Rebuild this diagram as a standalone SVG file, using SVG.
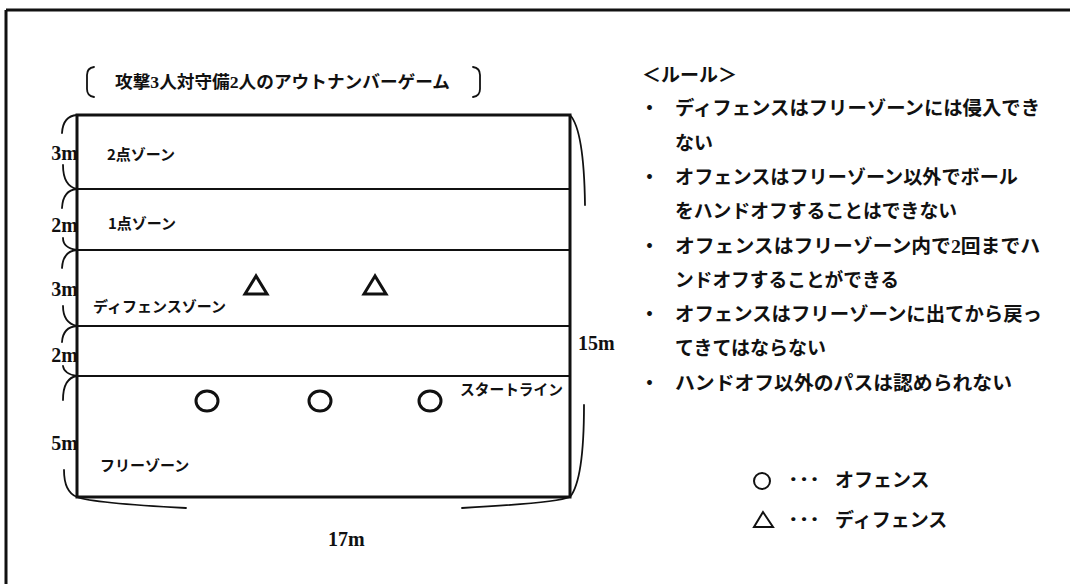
<svg xmlns="http://www.w3.org/2000/svg" width="1070" height="584" viewBox="0 0 1070 584">
<style>
.jp{font-family:"Liberation Serif","Noto Sans CJK JP",sans-serif;font-weight:700;fill:#111}
.num{font-family:"Liberation Serif","Noto Sans CJK JP",serif;font-weight:700;fill:#111;font-size:20px}
.zone{font-family:"Noto Sans CJK JP",sans-serif;font-weight:700;fill:#111;font-size:15px}
.rule{font-family:"Liberation Serif","Noto Sans CJK JP",sans-serif;font-weight:700;fill:#111;font-size:19px}
.thin{fill:none;stroke:#111;stroke-width:2}
.thick{fill:none;stroke:#111;stroke-width:3}
.brace{fill:none;stroke:#111;stroke-width:1.8;stroke-linecap:round}
</style>
<rect width="1070" height="584" fill="#fff"/>
<g id="frame">
<line x1="6" y1="10" x2="1070" y2="10" class="thick"/>
<line x1="6" y1="10" x2="6" y2="584" class="thick"/>
</g>
<g id="title">
<path d="M94,67 Q87,68 87,75 L87,89 Q87,96 94,97" class="brace"/>
<path d="M473,67 Q480,68 480,75 L480,89 Q480,96 473,97" class="brace"/>
<text x="115" y="88" class="jp" font-size="17.5" textLength="335" lengthAdjust="spacingAndGlyphs">攻撃3人対守備2人のアウトナンバーゲーム</text>
</g>
<g id="field">
<rect x="77" y="115" width="493" height="382" class="thick"/>
<line x1="77" y1="189" x2="570" y2="189" class="thin"/>
<line x1="77" y1="250" x2="570" y2="250" class="thin"/>
<line x1="77" y1="326" x2="570" y2="326" class="thin"/>
<line x1="77" y1="376" x2="570" y2="376" class="thin"/>
<text x="107" y="160" class="zone">2点ゾーン</text>
<text x="108" y="229" class="zone">1点ゾーン</text>
<text x="93" y="312" class="zone">ディフェンスゾーン</text>
<text x="460" y="395" class="zone" textLength="103" lengthAdjust="spacingAndGlyphs">スタートライン</text>
<text x="100" y="471" class="zone">フリーゾーン</text>
</g>
<g id="defenders">
<path d="M256,276 L245,294 L267,294 Z" class="thick"/>
<path d="M375,276 L364,294 L386,294 Z" class="thick"/>
</g>
<g id="offense">
<ellipse cx="207" cy="401" rx="11" ry="10" class="thick"/>
<ellipse cx="320" cy="401" rx="11" ry="10" class="thick"/>
<ellipse cx="430" cy="401" rx="11" ry="10" class="thick"/>
</g>
<g id="dimensions">
<path d="M77,115 Q63,116 62,133" class="brace"/>
<path d="M63,165 Q63,186 77,189" class="brace"/>
<path d="M77,189 Q63,190 62,208" class="brace"/>
<path d="M63,238 Q63,248 77,250" class="brace"/>
<path d="M77,250 Q63,251 62,268" class="brace"/>
<path d="M63,306 Q63,323 77,326" class="brace"/>
<path d="M77,326 Q63,327 62,342" class="brace"/>
<path d="M63,366 Q64,374 77,376" class="brace"/>
<path d="M77,376 Q63,378 63,400" class="brace"/>
<path d="M64,470 Q64,492 77,497" class="brace"/>
<path d="M570,115 Q584,130 585,205" class="brace"/>
<path d="M584,405 Q584,480 570,497" class="brace"/>
<path d="M570,497 Q555,503 462,508" class="brace"/>
<path d="M77,497 Q92,503 186,508" class="brace"/>
<text x="78" y="160" class="num" text-anchor="end">3m</text>
<text x="78" y="232" class="num" text-anchor="end">2m</text>
<text x="78" y="296" class="num" text-anchor="end">3m</text>
<text x="78" y="362" class="num" text-anchor="end">2m</text>
<text x="78" y="450" class="num" text-anchor="end">5m</text>
<text x="578" y="350" class="num">15m</text>
<text x="328" y="546" class="num">17m</text>
</g>
<g id="rules">
<text x="642" y="82" class="rule">＜ルール＞</text>
<text x="640" y="115" class="rule">・</text>
<text x="675" y="115" class="rule" textLength="365" lengthAdjust="spacingAndGlyphs">ディフェンスはフリーゾーンには侵入でき</text>
<text x="675" y="150" class="rule">ない</text>
<text x="640" y="184" class="rule">・</text>
<text x="675" y="184" class="rule" textLength="343" lengthAdjust="spacingAndGlyphs">オフェンスはフリーゾーン以外でボール</text>
<text x="675" y="218" class="rule" textLength="282" lengthAdjust="spacingAndGlyphs">をハンドオフすることはできない</text>
<text x="640" y="253" class="rule">・</text>
<text x="675" y="253" class="rule" textLength="365" lengthAdjust="spacingAndGlyphs">オフェンスはフリーゾーン内で2回までハ</text>
<text x="675" y="287" class="rule" textLength="224" lengthAdjust="spacingAndGlyphs">ンドオフすることができる</text>
<text x="640" y="321" class="rule">・</text>
<text x="675" y="321" class="rule" textLength="367" lengthAdjust="spacingAndGlyphs">オフェンスはフリーゾーンに出てから戻っ</text>
<text x="675" y="355" class="rule">てきてはならない</text>
<text x="640" y="390" class="rule">・</text>
<text x="675" y="390" class="rule" textLength="337" lengthAdjust="spacingAndGlyphs">ハンドオフ以外のパスは認められない</text>
</g>
<g id="legend">
<circle cx="762" cy="481" r="8" class="thin"/>
<text x="788" y="487" class="rule" font-size="17" textLength="32" lengthAdjust="spacingAndGlyphs">･･･</text>
<text x="835" y="487" class="rule" font-size="18">オフェンス</text>
<path d="M763,512 L754,527 L773,527 Z" class="thin"/>
<text x="788" y="527" class="rule" font-size="17" textLength="32" lengthAdjust="spacingAndGlyphs">･･･</text>
<text x="835" y="527" class="rule" font-size="18">ディフェンス</text>
</g>
</svg>
